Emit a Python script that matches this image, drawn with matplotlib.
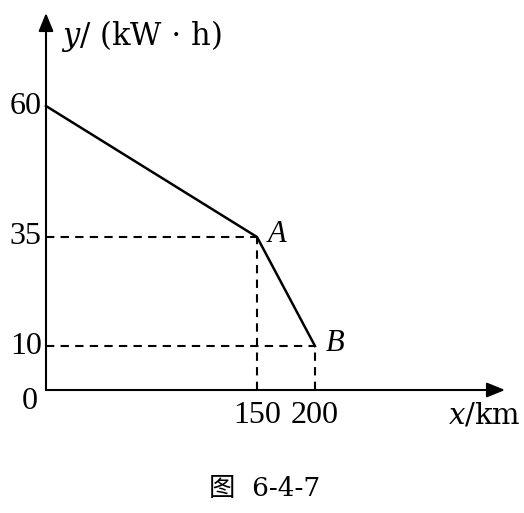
import numpy as np
import matplotlib.pyplot as plt

# data
dist = [0, 150, 200]
energy = [60, 35, 10]
point_names = ['A', 'B']
x_ticks = [150, 200]
y_ticks = [10, 35, 60]

# schematic (not to scale) axes, as in the textbook figure
x_knots, x_pix = [0, 150, 200], [0, 211, 269]
y_knots, y_pix = [0, 10, 35, 60], [0, 44, 153, 284]


def piecewise(v, a, b):
    v = np.asarray(v, dtype=float)
    out = np.interp(v, a, b)
    lo = v < a[0]
    hi = v > a[-1]
    out = np.where(lo, b[0] + (v - a[0]) * (b[1] - b[0]) / (a[1] - a[0]), out)
    out = np.where(hi, b[-1] + (v - a[-1]) * (b[-1] - b[-2]) / (a[-1] - a[-2]), out)
    return out


fx = lambda v: piecewise(v, x_knots, x_pix)
fx_inv = lambda p: piecewise(p, x_pix, x_knots)
fy = lambda v: piecewise(v, y_knots, y_pix)
fy_inv = lambda p: piecewise(p, y_pix, y_knots)

serif = ['Liberation Serif', 'DejaVu Serif']
wide_serif = ['DejaVu Serif']
caption_font = ['DejaVu Serif', 'Noto Sans CJK SC', 'DejaVu Sans']

W, H = 524, 513
ox, oy = 46, 390          # origin in pixels
x_end, y_end = 505, 13    # arrow tips

fig = plt.figure(figsize=(W / 100, H / 100), dpi=100)
ax = fig.add_axes([ox / W, (H - oy) / H, (x_end - ox) / W, (oy - y_end) / H])
ax.set_xscale('function', functions=(fx, fx_inv))
ax.set_yscale('function', functions=(fy, fy_inv))
ax.set_xlim(0, float(fx_inv(x_end - ox)))
ax.set_ylim(0, float(fy_inv(oy - y_end)))
ax.axis('off')

# axes with arrows
arrow = dict(arrowstyle='-|>,head_length=1.1,head_width=0.45', color='black', lw=1.5,
             shrinkA=0, shrinkB=0)
ax.annotate('', xy=(1, 0), xytext=(0, 0), xycoords='axes fraction', arrowprops=arrow)
ax.annotate('', xy=(0, 1), xytext=(0, 0), xycoords='axes fraction', arrowprops=arrow)

# the graph
ax.plot(dist, energy, color='black', lw=1.8, solid_joinstyle='miter', clip_on=False)

# dashed guides
for xv, yv in zip(dist[1:], energy[1:]):
    ax.plot([0, xv], [yv, yv], color='black', lw=1.5, ls=(0, (4, 3)), clip_on=False)
    ax.plot([xv, xv], [0, yv], color='black', lw=1.5, ls=(0, (4, 3)), clip_on=False)

for name, xv, yv in zip(point_names, dist[1:], energy[1:]):
    ax.annotate(name, (xv, yv), xytext=(8, 2), textcoords='offset points',
                ha='left', va='center', fontsize=22, style='italic', family=serif)

for t in y_ticks:
    ax.annotate(str(t), (0, t), xytext=(-3, 0), textcoords='offset points',
                ha='right', va='center', fontsize=23, family=serif)
for t in x_ticks:
    ax.annotate(str(t), (t, 0), xytext=(0, -8), textcoords='offset points',
                ha='center', va='top', fontsize=23, family=serif)
ax.annotate('0', (0, 0), xytext=(-6, 2), textcoords='offset points',
            ha='right', va='top', fontsize=23, family=serif)

# axis labels
fig.text(61 / W, 1 - 36 / H, '$y$/ (kW $\\cdot$ h)', fontsize=22, family=wide_serif, va='center',
         ha='left', math_fontfamily='dejavuserif')
fig.text(521 / W, 1 - 416 / H, '$x$/km', fontsize=21, family=wide_serif, va='center', ha='right',
         math_fontfamily='dejavuserif')

# caption
fig.text(265 / W, 1 - 489 / H, '图  6-4-7', fontsize=19, family=caption_font,
         ha='center', va='center')

fig.savefig('out.png', dpi=100)
